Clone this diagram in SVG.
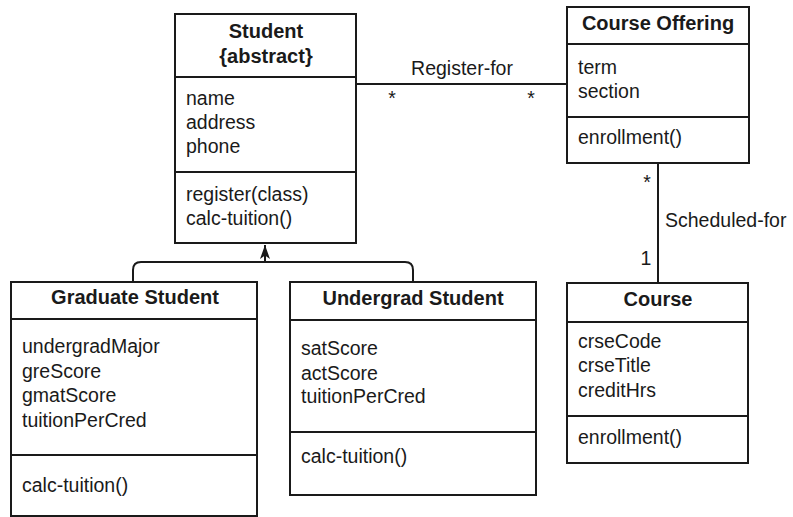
<svg xmlns="http://www.w3.org/2000/svg" width="793" height="517" viewBox="0 0 793 517">
<style>
.box{fill:#fff;stroke:#1a1a1a;stroke-width:2}
.div{stroke:#1a1a1a;stroke-width:2}
.t{font-family:"Liberation Sans",Arial,sans-serif;font-size:19.5px;fill:#1a1a1a}
.b{font-family:"Liberation Sans",Arial,sans-serif;font-size:20px;font-weight:bold;fill:#1a1a1a;text-anchor:middle}
.c{fill:none;stroke:#1a1a1a;stroke-width:2}
</style>
<defs>
<marker id="gen" viewBox="0 0 10 14" refX="5" refY="0" markerWidth="10" markerHeight="14" markerUnits="userSpaceOnUse" orient="0">
<path d="M5 0 L10 14 L5 10.5 L0 14 Z" fill="#1a1a1a"/>
</marker>
</defs>
<rect width="793" height="517" fill="#fff"/>
<g id="connectors">
<line class="c" x1="356" y1="84" x2="567" y2="84"/>
<line class="c" x1="658" y1="163" x2="658" y2="283"/>
<path class="c" d="M133 282 V270 Q133 262 141 262 H405 Q413 262 413 270 V282"/>
<line class="c" x1="265" y1="262" x2="265" y2="245" marker-end="url(#gen)"/>
<text class="t" x="462" y="75" text-anchor="middle">Register-for</text>
<text class="t" x="392" y="105" text-anchor="middle">*</text>
<text class="t" x="531" y="105" text-anchor="middle">*</text>
<text class="t" x="647" y="189" text-anchor="middle">*</text>
<text class="t" x="665" y="227">Scheduled-for</text>
<text class="t" x="646" y="265" text-anchor="middle">1</text>
</g>
<g id="student">
<rect class="box" x="175" y="14" width="181" height="229"/>
<line class="div" x1="175" y1="77" x2="356" y2="77"/>
<line class="div" x1="175" y1="172" x2="356" y2="172"/>
<text class="b" x="266" y="38">Student</text>
<text class="b" x="266" y="63">{abstract}</text>
<text class="t" x="186" y="105">name</text>
<text class="t" x="186" y="129">address</text>
<text class="t" x="186" y="153">phone</text>
<text class="t" x="186" y="201">register(class)</text>
<text class="t" x="186" y="225">calc-tuition()</text>
</g>
<g id="course-offering">
<rect class="box" x="567" y="7" width="182" height="156"/>
<line class="div" x1="567" y1="44" x2="749" y2="44"/>
<line class="div" x1="567" y1="117" x2="749" y2="117"/>
<text class="b" x="658" y="30">Course Offering</text>
<text class="t" x="578" y="74">term</text>
<text class="t" x="578" y="98">section</text>
<text class="t" x="578" y="144">enrollment()</text>
</g>
<g id="course">
<rect class="box" x="567" y="283" width="181" height="180"/>
<line class="div" x1="567" y1="322" x2="748" y2="322"/>
<line class="div" x1="567" y1="416" x2="748" y2="416"/>
<text class="b" x="658" y="306">Course</text>
<text class="t" x="578" y="348">crseCode</text>
<text class="t" x="578" y="372">crseTitle</text>
<text class="t" x="578" y="397">creditHrs</text>
<text class="t" x="578" y="444">enrollment()</text>
</g>
<g id="graduate-student">
<rect class="box" x="11" y="282" width="246" height="234"/>
<line class="div" x1="11" y1="319" x2="257" y2="319"/>
<line class="div" x1="11" y1="455" x2="257" y2="455"/>
<text class="b" x="135" y="304">Graduate Student</text>
<text class="t" x="22" y="353">undergradMajor</text>
<text class="t" x="22" y="378">greScore</text>
<text class="t" x="22" y="402">gmatScore</text>
<text class="t" x="22" y="427">tuitionPerCred</text>
<text class="t" x="22" y="492">calc-tuition()</text>
</g>
<g id="undergrad-student">
<rect class="box" x="290" y="282" width="246" height="213"/>
<line class="div" x1="290" y1="320" x2="536" y2="320"/>
<line class="div" x1="290" y1="432" x2="536" y2="432"/>
<text class="b" x="413" y="305">Undergrad Student</text>
<text class="t" x="301" y="355">satScore</text>
<text class="t" x="301" y="380">actScore</text>
<text class="t" x="301" y="403">tuitionPerCred</text>
<text class="t" x="301" y="463">calc-tuition()</text>
</g>
</svg>
